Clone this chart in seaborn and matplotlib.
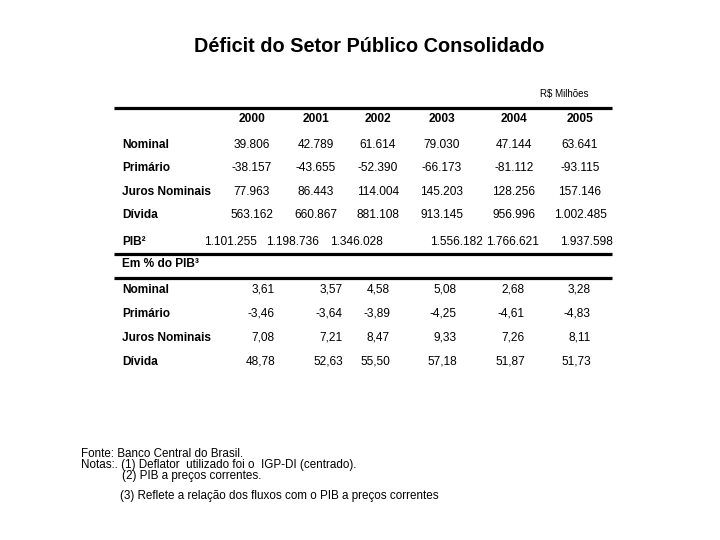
import seaborn as sns
import matplotlib.pyplot as plt
import pandas as pd

# data
years = ["2000", "2001", "2002", "2003", "2004", "2005"]
rows_mi = ["Nominal", "Primário", "Juros Nominais", "Dívida", "PIB²"]
nominal_mi = ["39.806", "42.789", "61.614", "79.030", "47.144", "63.641"]
primario_mi = ["-38.157", "-43.655", "-52.390", "-66.173", "-81.112", "-93.115"]
juros_mi = ["77.963", "86.443", "114.004", "145.203", "128.256", "157.146"]
divida_mi = ["563.162", "660.867", "881.108", "913.145", "956.996", "1.002.485"]
pib_mi = ["1.101.255", "1.198.736", "1.346.028", "1.556.182", "1.766.621", "1.937.598"]

rows_pct = ["Nominal", "Primário", "Juros Nominais", "Dívida"]
nominal_pct = ["3,61", "3,57", "4,58", "5,08", "2,68", "3,28"]
primario_pct = ["-3,46", "-3,64", "-3,89", "-4,25", "-4,61", "-4,83"]
juros_pct = ["7,08", "7,21", "8,47", "9,33", "7,26", "8,11"]
divida_pct = ["48,78", "52,63", "55,50", "57,18", "51,87", "51,73"]

title = "Déficit do Setor Público Consolidado"
unit = "R$ Milhões"
section = "Em % do PIB³"
notes = [
    "Fonte: Banco Central do Brasil.",
    "Notas:. (1) Deflator  utilizado foi o  IGP-DI (centrado).",
    "(2) PIB a preços correntes.",
    "(3) Reflete a relação dos fluxos com o PIB a preços correntes",
]

df_mi = pd.DataFrame([nominal_mi, primario_mi, juros_mi, divida_mi, pib_mi],
                     index=rows_mi, columns=years)
df_pct = pd.DataFrame([nominal_pct, primario_pct, juros_pct, divida_pct],
                      index=rows_pct, columns=years)

# layout (pixels)
col_x = [252, 316, 378, 442, 514, 580]
pib_x = [230, 292, 356, 456, 512, 586]
pct_x = [275, 343, 390, 457, 525, 591]
y_mi = [145, 168, 192, 215, 242]
y_pct = [290, 314, 338, 362]

sns.set_theme(style="white")
plt.rcParams['font.family'] = ['Liberation Sans', 'DejaVu Sans']
plt.rcParams['text.color'] = 'black'

fig = plt.figure(figsize=(7.2, 5.4), dpi=100)
ax = fig.add_axes([0, 0, 1, 1])
ax.set_xlim(0, 720)
ax.set_ylim(540, 0)
ax.axis('off')

ax.text(369, 46, title, ha='center', va='center', fontsize=14.3, fontweight='bold')
ax.text(588, 94, unit, ha='right', va='center', fontsize=7)

ax.hlines([108, 254, 278], 114, 612, colors='black', linewidth=2.3)

fs = 8.6
for x, yr in zip(col_x, years):
    ax.text(x, 119, yr, ha='center', va='center', fontsize=fs, fontweight='bold')

for y, (label, row) in zip(y_mi, df_mi.iterrows()):
    ax.text(122, y, label, ha='left', va='center', fontsize=fs, fontweight='bold')
    xs = pib_x if label == "PIB²" else col_x
    for x, v in zip(xs, row.values):
        ax.text(x, y, v, ha='center', va='center', fontsize=fs)

ax.text(122, 264, section, ha='left', va='center', fontsize=fs, fontweight='bold')

for y, (label, row) in zip(y_pct, df_pct.iterrows()):
    ax.text(122, y, label, ha='left', va='center', fontsize=fs, fontweight='bold')
    for x, v in zip(pct_x, row.values):
        ax.text(x, y, v, ha='right', va='center', fontsize=fs)

note_pos = [(81, 454), (81, 465), (122, 476), (120, 496)]
for (x, y), t in zip(note_pos, notes):
    ax.text(x, y, t, ha='left', va='center', fontsize=8.4)

plt.savefig("out.png", dpi=100)
plt.close()
